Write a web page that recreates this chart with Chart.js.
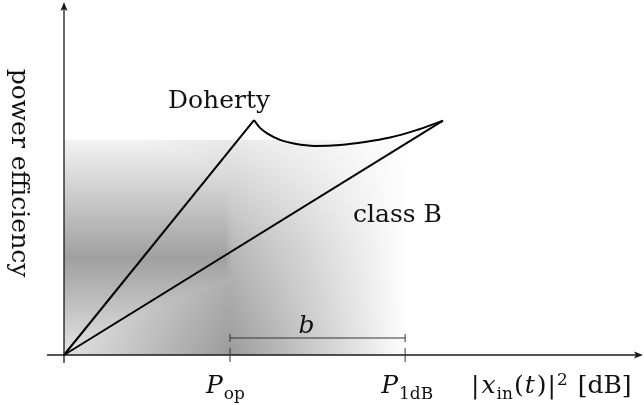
<!DOCTYPE html>
<html>
<head>
<meta charset="utf-8">
<script src="https://cdn.jsdelivr.net/npm/chart.js@4/dist/chart.umd.min.js"></script>
<style>
  body { margin: 0; background: #fff; }
  canvas { display: block; }
</style>
</head>
<body>
<canvas id="grafico" width="644" height="405"></canvas>
<script>
// efficiency curves, x = input power, y = efficiency (arbitrary units)
const dohertyRiseX = [0, 11.45];
const dohertyRiseY = [0, 78.3];
const dohertyCurveX = [11.45, 11.81, 12.29, 13.01, 13.92, 15.12, 16.63, 18.13, 19.64, 21.14, 22.83];
const dohertyCurveY = [78.3, 75.7, 73.7, 71.7, 70.4, 69.7, 70.0, 71.0, 72.5, 74.8, 78.1];
const classBX = [0, 22.83];
const classBY = [0, 78.1];

// operating point and 1 dB compression point
const markerX = [10, 20.55];
const shadeTop = 71.7;

const FONT = '"DejaVu Serif", "Liberation Serif", serif';

function pontos(xs, ys) {
  return xs.map((v, i) => ({ x: v, y: ys[i] }));
}

function interp(stops, t) {
  if (t <= stops[0][0]) return stops[0][1];
  for (let i = 1; i < stops.length; i++) {
    if (t <= stops[i][0]) {
      const a = stops[i - 1], b = stops[i];
      return a[1] + (b[1] - a[1]) * (t - a[0]) / (b[0] - a[0]);
    }
  }
  return stops[stops.length - 1][1];
}

// gray shading behind the curves
const sombra = {
  id: "sombra",
  beforeDatasetsDraw(chart) {
    const { ctx, scales: { x, y } } = chart;
    const x0 = Math.round(x.getPixelForValue(0));
    const xm = x.getPixelForValue(markerX[0]);
    const x1 = Math.round(x.getPixelForValue(markerX[1])) + 3;
    const yt = Math.round(y.getPixelForValue(shadeTop));
    const yb = Math.round(y.getPixelForValue(0));
    const w = x1 - x0, h = yb - yt;
    const um = (xm - x0) / (x1 - x0);
    const horiz = [[0, 30], [um, 100], [1, 0]];
    const peso = [[0, 0.22], [0.5, 0.72], [1, 1]];
    const vert = [[0, 243], [0.55, 160], [1, 228]];
    const img = ctx.createImageData(w, h);
    for (let j = 0; j < h; j++) {
      const t = (j + 0.5) / h;
      const vg = interp(vert, t);
      const pv = interp(peso, t);
      for (let i = 0; i < w; i++) {
        const px = x0 + i + 0.5;
        let g = 255 - interp(horiz, (px - x0) / (x1 - x0)) * pv;
        // soft right edge of the left block
        const f = interp([[xm - 5, 1], [xm + 2, 0]], px);
        const gv = g + (Math.min(g, vg) - g) * f;
        const k = (j * w + i) * 4;
        img.data[k] = img.data[k + 1] = img.data[k + 2] = gv;
        img.data[k + 3] = 255;
      }
    }
    ctx.putImageData(img, x0, yt);
  },
};

function textoCorrido(ctx, x, base, partes) {
  let cx = x;
  partes.forEach((p) => {
    ctx.font = p.font;
    ctx.fillText(p.t, cx, base + (p.dy || 0));
    cx += ctx.measureText(p.t).width + (p.gap || 0);
  });
}

// axes, arrows, markers and labels
const eixos = {
  id: "eixos",
  afterDatasetsDraw(chart) {
    const { ctx, scales: { x, y } } = chart;
    const ox = x.getPixelForValue(0);
    const oy = y.getPixelForValue(0);
    const pop = x.getPixelForValue(markerX[0]);
    const p1 = x.getPixelForValue(markerX[1]);

    ctx.save();
    ctx.strokeStyle = "#1a1a1a";
    ctx.fillStyle = "#1a1a1a";
    ctx.lineWidth = 1.3;

    // y axis
    ctx.beginPath();
    ctx.moveTo(ox, oy + 8);
    ctx.lineTo(ox, 9);
    ctx.stroke();
    ctx.beginPath();
    ctx.moveTo(ox, 2);
    ctx.lineTo(ox - 3.5, 11);
    ctx.lineTo(ox, 9);
    ctx.lineTo(ox + 3.5, 11);
    ctx.closePath();
    ctx.fill();

    // x axis
    ctx.beginPath();
    ctx.moveTo(ox - 17, oy);
    ctx.lineTo(636, oy);
    ctx.stroke();
    ctx.beginPath();
    ctx.moveTo(643, oy);
    ctx.lineTo(634, oy - 3.5);
    ctx.lineTo(636, oy);
    ctx.lineTo(634, oy + 3.5);
    ctx.closePath();
    ctx.fill();

    // ticks and b bracket
    ctx.strokeStyle = "#333";
    ctx.lineWidth = 1;
    ctx.beginPath();
    [pop, p1].forEach((px) => {
      ctx.moveTo(px, oy - 7);
      ctx.lineTo(px, oy + 7);
    });
    const yb = oy - 17;
    ctx.moveTo(pop, yb);
    ctx.lineTo(p1, yb);
    ctx.moveTo(pop, yb - 4);
    ctx.lineTo(pop, yb + 4);
    ctx.moveTo(p1, yb - 4);
    ctx.lineTo(p1, yb + 4);
    ctx.stroke();

    ctx.fillStyle = "#111";
    ctx.textBaseline = "alphabetic";
    ctx.textAlign = "left";
    const grande = "25px " + FONT;
    const italico = "italic 25px " + FONT;
    const pequeno = "17px " + FONT;

    ctx.font = italico;
    ctx.textAlign = "center";
    ctx.fillText("b", (pop + p1) / 2 - 11, yb - 5);
    ctx.textAlign = "left";

    textoCorrido(ctx, pop - 24, 393, [
      { t: "P", font: italico, gap: 1 },
      { t: "op", font: pequeno, dy: 6 },
    ]);
    textoCorrido(ctx, p1 - 24, 393, [
      { t: "P", font: italico, gap: 1 },
      { t: "1dB", font: pequeno, dy: 6 },
    ]);
    textoCorrido(ctx, 471, 393, [
      { t: "|", font: grande, gap: 2 },
      { t: "x", font: italico, gap: 1 },
      { t: "in", font: pequeno, dy: 6, gap: 1 },
      { t: "(", font: grande, gap: 1 },
      { t: "t", font: italico, gap: 2 },
      { t: ")", font: grande, gap: 1 },
      { t: "|", font: grande, gap: 1 },
      { t: "2", font: pequeno, dy: -8, gap: 10 },
      { t: "[dB]", font: grande },
    ]);

    ctx.font = grande;
    ctx.fillText("Doherty", 168, 108);
    ctx.fillText("class B", 353, 222);

    ctx.save();
    ctx.translate(12, 173);
    ctx.rotate(Math.PI / 2);
    ctx.textAlign = "center";
    ctx.fillText("power efficiency", 0, 0);
    ctx.restore();

    ctx.restore();
  },
};

const linha = { borderColor: "#000", borderWidth: 2, pointRadius: 0, fill: false };

new Chart(document.getElementById("grafico"), {
  type: "line",
  data: {
    datasets: [
      { ...linha, label: "Doherty", data: pontos(dohertyRiseX, dohertyRiseY), tension: 0 },
      { ...linha, label: "Doherty", data: pontos(dohertyCurveX, dohertyCurveY), cubicInterpolationMode: "monotone" },
      { ...linha, label: "class B", data: pontos(classBX, classBY), tension: 0 },
    ],
  },
  options: {
    responsive: false,
    devicePixelRatio: 1,
    animation: false,
    layout: { padding: 0 },
    plugins: { legend: { display: false }, tooltip: { enabled: false } },
    scales: {
      x: { type: "linear", display: false, min: -64 / 16.6, max: 580 / 16.6 },
      y: { type: "linear", display: false, min: -50 / 3, max: 355 / 3 },
    },
  },
  plugins: [sombra, eixos],
});
</script>
</body>
</html>
